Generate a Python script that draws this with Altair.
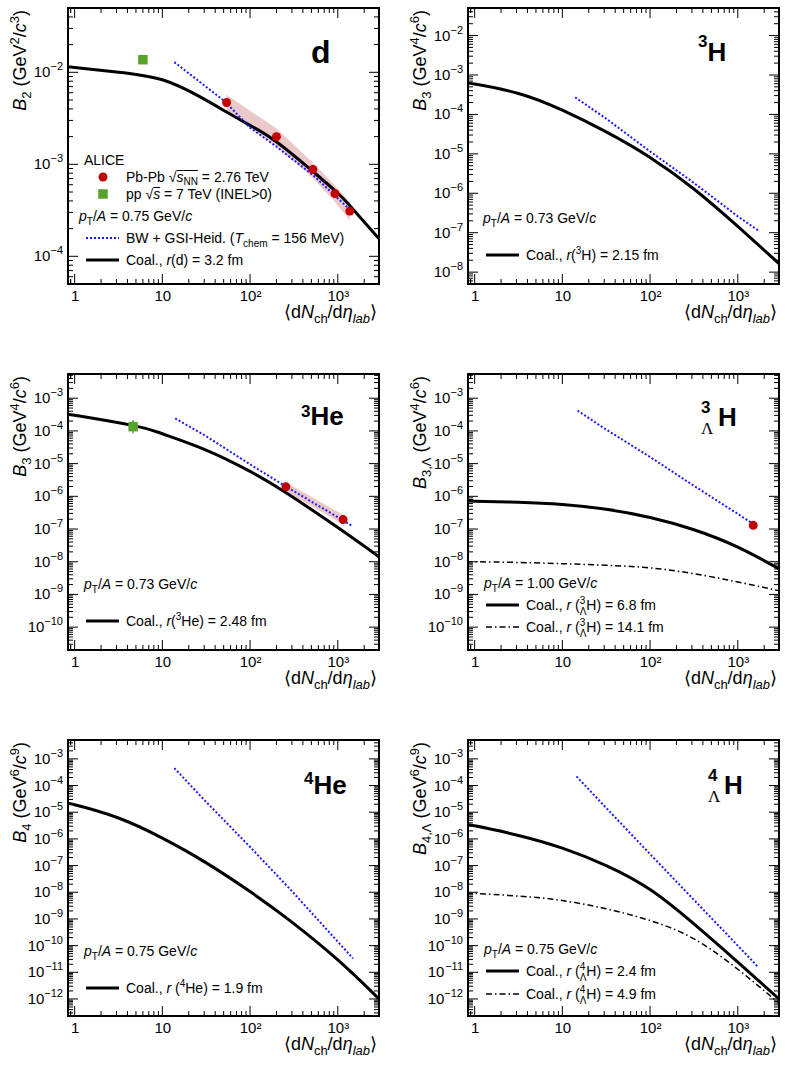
import math
import altair as alt
import pandas as pd

FONT = "Liberation Sans"
W, H = 311, 276
X_DOMAIN = [0.84, 2950]

# ---------------- data ----------------
# deuteron
d_coal_x = [0.84, 1, 3, 10, 27, 54, 100, 201, 525, 967, 1432, 2950]
d_coal_y = [1.15e-2, 1.13e-2, 1.01e-2, 8.3e-3, 5.4e-3, 3.7e-3, 2.65e-3, 1.75e-3, 8.3e-4, 5.0e-4, 3.4e-4, 1.55e-4]
d_gsi_x = [13.7, 27, 52, 100, 201, 525, 1250, 1400]
d_gsi_y = [1.29e-2, 7.8e-3, 4.8e-3, 2.5e-3, 1.55e-3, 7.6e-4, 3.5e-4, 3.2e-4]
d_pb_x = [54, 200, 520, 930, 1370]
d_pb_y = [4.7e-3, 2.0e-3, 8.8e-4, 4.8e-4, 3.1e-4]
d_pb_hi = [5.7e-3, 2.45e-3, 1.04e-3, 5.9e-4, 3.9e-4]
d_pb_lo = [3.75e-3, 1.55e-3, 7.1e-4, 3.9e-4, 2.45e-4]
d_pp_x = [6.0]
d_pp_y = [1.37e-2]

# triton
t_coal_x = [0.84, 1, 3.16, 10, 31.6, 100, 316, 1000, 2950]
t_coal_y = [6.2e-4, 5.9e-4, 3.4e-4, 1.28e-4, 3.6e-5, 8.1e-6, 1.28e-6, 1.44e-7, 1.65e-8]
t_gsi_x = [14, 30, 100, 300, 1000, 1700]
t_gsi_y = [2.7e-4, 8.5e-5, 1.15e-5, 2.0e-6, 2.6e-7, 1.15e-7]

# helium-3
he3_coal_x = [0.84, 1, 4.7, 10, 31, 100, 260, 1000, 2950]
he3_coal_y = [3.1e-4, 3.0e-4, 1.45e-4, 8.2e-5, 2.65e-5, 5.8e-6, 1.26e-6, 1.11e-7, 1.42e-8]
he3_gsi_x = [14, 30, 100, 256, 1000, 1490]
he3_gsi_y = [2.4e-4, 7.5e-5, 9.5e-6, 2.0e-6, 2.3e-7, 1.2e-7]
he3_pb_x = [256, 1150]
he3_pb_y = [1.95e-6, 1.95e-7]
he3_pb_hi = [2.7e-6, 2.7e-7]
he3_pb_lo = [1.4e-6, 1.4e-7]
he3_pp_x = [4.64]
he3_pp_y = [1.35e-4]
he3_pp_lo = [8.5e-5]
he3_pp_hi = [2.15e-4]

# hypertriton
h3l_coal_x = [0.84, 1, 3.16, 10, 31.6, 100, 316, 1000, 2950]
h3l_coal_a = [7.2e-7, 7.1e-7, 6.6e-7, 5.6e-7, 4.0e-7, 2.25e-7, 9.5e-8, 2.8e-8, 6.1e-9]
h3l_coal_b = [1.0e-8, 1.0e-8, 9.5e-9, 8.7e-9, 7.8e-9, 6.5e-9, 4.3e-9, 2.4e-9, 1.3e-9]
h3l_gsi_x = [14.9, 30, 100, 300, 1000, 1490]
h3l_gsi_y = [4.2e-4, 1.2e-4, 1.6e-5, 2.3e-6, 2.9e-7, 1.45e-7]
h3l_pb_x = [1500]
h3l_pb_y = [1.3e-7]
h3l_pb_lo = [1.1e-7]
h3l_pb_hi = [1.55e-7]

# helium-4
he4_coal_x = [0.84, 1, 3.1, 10, 31, 100, 285, 1000, 2950]
he4_coal_y = [2.05e-5, 1.9e-5, 6.2e-6, 1.07e-6, 1.32e-7, 1.06e-8, 8.6e-10, 2.9e-11, 1.0e-12]
he4_gsi_x = [13.7, 30, 100, 300, 1000, 1490]
he4_gsi_y = [4.5e-4, 2.9e-5, 5.0e-7, 1.1e-8, 1.4e-10, 3.3e-11]

# hyper-hydrogen-4
h4l_coal_x = [0.84, 1, 3.16, 10, 31.6, 100, 316, 1000, 2950]
h4l_coal_a = [3.2e-6, 3.1e-6, 1.35e-6, 4.5e-7, 1.0e-7, 1.26e-8, 6.5e-10, 2.4e-11, 1.0e-12]
h4l_coal_b = [9.2e-9, 9.0e-9, 7.2e-9, 4.9e-9, 2.4e-9, 8.7e-10, 1.8e-10, 1.3e-11, 7e-13]
h4l_gsi_x = [14.5, 31.6, 100, 316, 1000, 1700]
h4l_gsi_y = [2.2e-4, 1.45e-5, 2.7e-7, 5.2e-9, 1.0e-10, 1.6e-11]

X_LABEL_VALUES = [1, 10, 100, 1000]

# ---------------- styling helpers ----------------
RED = "#c00000"
GREEN = "#58a12b"
BLUE = "#1a1aff"
BAND = "#c86464"

ONE = alt.Data(values=[{"a": 1}])

XAXIS = alt.Axis(
    values=X_LABEL_VALUES,
    labelExpr="datum.value == 1 ? '1' : datum.value == 10 ? '10' : datum.value == 100 ? '10²' : '10³'",
    ticks=False, domain=False, grid=False, title=None,
    labelFont=FONT, labelFontSize=15, labelColor="black", labelPadding=4,
    labelFlush=False, labelOverlap=False,
)

CHAR_W = {
    " ": 278, "(": 333, ")": 333, "+": 584, ",": 278, "-": 333, ".": 278, "/": 278,
    "<": 584, "=": 584, ">": 584, "√": 549, "⟨": 390, "⟩": 390, "η": 556, "Λ": 667, "−": 584,
    "A": 667, "B": 667, "C": 722, "D": 722, "E": 667, "F": 611, "G": 778, "H": 722,
    "I": 278, "L": 556, "M": 833, "N": 722, "P": 667, "S": 667, "T": 611, "V": 667, "W": 944,
    "a": 556, "b": 556, "c": 500, "d": 556, "e": 556, "f": 278, "h": 556, "i": 222,
    "l": 222, "m": 833, "n": 556, "o": 556, "p": 556, "r": 333, "s": 500, "t": 278,
}


def textw(t, size):
    return sum(CHAR_W.get(ch, 556) for ch in t) * size / 1000.0


def xenc(field):
    return alt.X(field, type="quantitative",
                 scale=alt.Scale(type="log", domain=X_DOMAIN, nice=False), axis=XAXIS)


class Panel:
    def __init__(self, ydom):
        self.ydom = ydom
        lo = math.floor(math.log10(ydom[0]))
        hi = math.ceil(math.log10(ydom[1]))
        self.ymajor = [10.0 ** e for e in range(lo, hi + 1) if ydom[0] <= 10.0 ** e <= ydom[1]]
        self.yminor = [k * 10.0 ** e for e in range(lo, hi + 1) for k in range(2, 10)
                       if ydom[0] <= k * 10.0 ** e <= ydom[1]]
        self.layers = []

    def yenc(self, field):
        return alt.Y(field, type="quantitative",
                     scale=alt.Scale(type="log", domain=self.ydom, nice=False), axis=None)

    # data marks
    def band(self, xs, lo, hi):
        df = pd.DataFrame({"x": xs, "lo": lo, "hi": hi})
        self.layers.append(alt.Chart(df).mark_area(color=BAND, opacity=0.35, clip=True).encode(
            x=xenc("x"), y=self.yenc("lo"), y2=alt.Y2("hi")))

    def line(self, xs, ys, color="black", width=3.0, dash=None, interp="natural"):
        df = pd.DataFrame({"x": xs, "y": ys})
        kw = dict(color=color, strokeWidth=width, interpolate=interp, clip=True)
        if dash:
            kw["strokeDash"] = dash
        self.layers.append(alt.Chart(df).mark_line(**kw).encode(x=xenc("x"), y=self.yenc("y")))

    def gsi(self, xs, ys):
        self.line(xs, ys, color=BLUE, width=2, dash=[2, 2], interp="linear")

    def errbar(self, xs, lo, hi, color):
        df = pd.DataFrame({"x": xs, "lo": lo, "hi": hi})
        self.layers.append(alt.Chart(df).mark_rule(color=color, strokeWidth=1.5).encode(
            x=xenc("x"), y=self.yenc("lo"), y2=alt.Y2("hi")))

    def points(self, xs, ys, shape, color):
        df = pd.DataFrame({"x": xs, "y": ys})
        if shape == "circle":
            mk = alt.Chart(df).mark_circle(size=80, color=color, opacity=1)
        else:
            mk = alt.Chart(df).mark_square(size=90, color=color, opacity=1)
        self.layers.append(mk.encode(x=xenc("x"), y=self.yenc("y")))

    # frame ticks on all four sides, and the power-of-ten labels on the left
    def ticks(self):
        xmaj = pd.DataFrame({"v": X_LABEL_VALUES})
        xmin = pd.DataFrame({"v": [k * 10.0 ** e for e in range(-1, 4) for k in range(2, 10)
                                   if X_DOMAIN[0] <= k * 10.0 ** e <= X_DOMAIN[1]] + [0.9]})
        ymaj = pd.DataFrame({"v": self.ymajor})
        ymin = pd.DataFrame({"v": self.yminor})
        for df, ln in ((xmaj, 10), (xmin, 5)):
            base = alt.Chart(df).mark_rule(color="black", strokeWidth=1)
            self.layers.append(base.encode(x=xenc("v"), y=alt.value(H), y2=alt.value(H - ln)))
            self.layers.append(base.encode(x=xenc("v"), y=alt.value(0), y2=alt.value(ln)))
        for df, ln in ((ymaj, 10), (ymin, 5)):
            base = alt.Chart(df).mark_rule(color="black", strokeWidth=1)
            self.layers.append(base.encode(y=self.yenc("v"), x=alt.value(0), x2=alt.value(ln)))
            self.layers.append(base.encode(y=self.yenc("v"), x=alt.value(W), x2=alt.value(W - ln)))

        exps = ["−" + str(-int(round(math.log10(v)))) for v in self.ymajor]
        lab = pd.DataFrame({"v": self.ymajor, "e": exps})
        self.layers.append(alt.Chart(lab).mark_text(
            font=FONT, fontSize=11, align="right", baseline="alphabetic", dy=-2, color="black"
        ).encode(y=self.yenc("v"), x=alt.value(-5), text="e:N"))
        for ndig in (1, 2):
            sub = lab[lab["e"].str.len() == ndig + 1]
            if len(sub) == 0:
                continue
            ew = textw(sub["e"].iloc[0], 11)
            self.layers.append(alt.Chart(sub).mark_text(
                font=FONT, fontSize=15, align="right", baseline="alphabetic", dy=5, dx=-ew,
                text="10", color="black"
            ).encode(y=self.yenc("v"), x=alt.value(-5)))

    # annotation helpers
    def text(self, s, x, y, size=14, it=False, bold=False, angle=0, font=FONT):
        kw = dict(text=s, font=font, fontSize=size, align="left",
                  baseline="alphabetic", color="black")
        if it:
            kw["fontStyle"] = "italic"
        if bold:
            kw["fontWeight"] = "bold"
        if angle:
            kw["angle"] = angle
        self.layers.append(alt.Chart(ONE).mark_text(**kw).encode(x=alt.value(x), y=alt.value(y)))

    def hline(self, x0, x1, y, color="black", width=1.0, dash=None):
        kw = dict(color=color, strokeWidth=width)
        if dash:
            kw["strokeDash"] = dash
        self.layers.append(alt.Chart(ONE).mark_rule(**kw).encode(
            x=alt.value(x0), x2=alt.value(x1), y=alt.value(y)))

    def marker(self, x, y, shape, color):
        if shape == "circle":
            mk = alt.Chart(ONE).mark_circle(size=80, color=color, opacity=1)
        else:
            mk = alt.Chart(ONE).mark_square(size=90, color=color, opacity=1)
        self.layers.append(mk.encode(x=alt.value(x), y=alt.value(y)))

    def rich(self, segs, x, y, angle=0, anchor="start"):
        widths = [s["adv"] if s["adv"] is not None else textw(s["t"], s["size"]) for s in segs]
        cur = 0.0 if anchor == "start" else -sum(widths)
        for s, w in zip(segs, widths):
            t = s["t"]
            lead = textw(" " * (len(t) - len(t.lstrip(" "))), s["size"])
            pos = cur + lead
            if angle == 0:
                px, py = x + pos, y + s["shift"]
            else:
                px, py = x + s["shift"], y - pos
            self.text(t.strip(" "), px, py, s["size"], s["it"], s["bold"], angle, s["font"])
            if s["over"]:
                self.hline(x + cur, x + cur + w, y - 11.5)
            cur += w

    def chart(self):
        return alt.layer(*self.layers).properties(width=W, height=H)


def S(t, size=14, shift=0, it=False, bold=False, adv=None, over=False, font=FONT):
    return dict(t=t, size=size, shift=shift, it=it, bold=bold, adv=adv, over=over, font=font)


X_TITLE = [S("⟨", 18), S("d", 18), S("N", 18, it=True), S("ch", 13, shift=5), S("/d", 18),
           S("η", 18, it=True), S("lab", 13, shift=5, it=True), S("⟩", 18)]


def y_title(sub, e1, e2):
    return [S("B", 18, it=True), S(sub, 13, shift=5), S(" (GeV", 18), S(e1, 13, shift=-7),
            S("/", 18), S("c", 18, it=True), S(e2, 13, shift=-7), S(")", 18)]


def pt_label(val):
    return [S("p", it=True), S("T", 10, shift=4), S("/"), S("A", it=True),
            S(" = " + val + " GeV/"), S("c", it=True)]


def axes_titles(p, ytitle):
    p.rich(X_TITLE, W - 2, H + 34, anchor="end")
    p.rich(ytitle, -42, 2, angle=270, anchor="end")


# ---------------- panel: d ----------------
p1 = Panel([5e-5, 0.05])
p1.band(d_pb_x, d_pb_lo, d_pb_hi)
p1.line(d_coal_x, d_coal_y)
p1.gsi(d_gsi_x, d_gsi_y)
p1.points(d_pb_x, d_pb_y, "circle", RED)
p1.points(d_pp_x, d_pp_y, "square", GREEN)
p1.ticks()
axes_titles(p1, y_title("2", "2", "3"))
p1.text("d", 243, 55, 32, bold=True)
p1.text("ALICE", 16, 157)
p1.marker(35, 169, "circle", RED)
p1.rich([S("Pb-Pb "), S("√"), S("s", it=True, over=True), S("NN", 10, shift=3, over=True),
         S(" = 2.76 TeV")], 58, 174)
p1.marker(35, 186, "square", GREEN)
p1.rich([S("pp "), S("√"), S("s", it=True, over=True), S(" = 7 TeV (INEL>0)")], 58, 191)
p1.rich(pt_label("0.75"), 11, 213)
p1.hline(18, 51, 230, BLUE, 2, [2, 2])
p1.rich([S("BW + GSI-Heid. ("), S("T", it=True), S("chem", 10, shift=4), S(" = 156 MeV)")], 58, 235)
p1.hline(18, 51, 252, "black", 3)
p1.rich([S("Coal., "), S("r", it=True), S("(d) = 3.2 fm")], 58, 257)

# ---------------- panel: triton ----------------
p2 = Panel([5e-9, 0.05])
p2.line(t_coal_x, t_coal_y)
p2.gsi(t_gsi_x, t_gsi_y)
p2.ticks()
axes_titles(p2, y_title("3", "4", "6"))
p2.rich([S("3", 17, shift=-14, bold=True), S("H", 26, bold=True)], 230, 53)
p2.rich(pt_label("0.73"), 15, 215)
p2.hline(18, 51, 247, "black", 3)
p2.rich([S("Coal., "), S("r", it=True), S("("), S("3", 10, shift=-6), S("H) = 2.15 fm")], 58, 252)

# ---------------- panel: helium-3 ----------------
p3 = Panel([2e-11, 5.5e-3])
p3.band(he3_pb_x, he3_pb_lo, he3_pb_hi)
p3.line(he3_coal_x, he3_coal_y)
p3.gsi(he3_gsi_x, he3_gsi_y)
p3.errbar(he3_pp_x, he3_pp_lo, he3_pp_hi, GREEN)
p3.points(he3_pb_x, he3_pb_y, "circle", RED)
p3.points(he3_pp_x, he3_pp_y, "square", GREEN)
p3.ticks()
axes_titles(p3, y_title("3", "4", "6"))
p3.rich([S("3", 17, shift=-8, bold=True), S("He", 26, bold=True)], 233, 51)
p3.rich(pt_label("0.73"), 16, 215)
p3.hline(18, 51, 247, "black", 3)
p3.rich([S("Coal., "), S("r", it=True), S("("), S("3", 10, shift=-6), S("He) = 2.48 fm")], 58, 252)

# ---------------- panel: hypertriton ----------------
p4 = Panel([2e-11, 5.5e-3])
p4.line(h3l_coal_x, h3l_coal_a)
p4.line(h3l_coal_x, h3l_coal_b, width=1.5, dash=[6, 3, 1.5, 3])
p4.gsi(h3l_gsi_x, h3l_gsi_y)
p4.errbar(h3l_pb_x, h3l_pb_lo, h3l_pb_hi, RED)
p4.points(h3l_pb_x, h3l_pb_y, "circle", RED)
p4.ticks()
axes_titles(p4, y_title("3,Λ", "4", "6"))
p4.rich([S("3", 17, shift=-13, bold=True, adv=0), S("Λ", 17, shift=8, adv=17, font="Liberation Serif"),
         S("H", 26, bold=True)], 233, 52)
p4.rich(pt_label("1.00"), 16, 214)
hyp_sym = [S(" ("), S("3", 10, shift=-6, adv=0), S("Λ", 10, shift=5)]
p4.hline(18, 51, 231, "black", 3)
p4.rich([S("Coal., "), S("r", it=True)] + hyp_sym + [S("H) = 6.8 fm")], 58, 236)
p4.hline(18, 51, 253, "black", 1.5, [6, 3, 1.5, 3])
p4.rich([S("Coal., "), S("r", it=True)] + hyp_sym + [S("H) = 14.1 fm")], 58, 258)

# ---------------- panel: helium-4 ----------------
p5 = Panel([2.3e-13, 5.1e-3])
p5.line(he4_coal_x, he4_coal_y)
p5.gsi(he4_gsi_x, he4_gsi_y)
p5.ticks()
axes_titles(p5, y_title("4", "6", "9"))
p5.rich([S("4", 17, shift=-10, bold=True), S("He", 26, bold=True)], 236, 54)
p5.rich(pt_label("0.75"), 16, 216)
p5.hline(18, 51, 248, "black", 3)
p5.rich([S("Coal., "), S("r", it=True), S(" ("), S("4", 10, shift=-6), S("He) = 1.9 fm")], 58, 253)

# ---------------- panel: hyper-hydrogen-4 ----------------
p6 = Panel([2.3e-13, 5.1e-3])
p6.line(h4l_coal_x, h4l_coal_a)
p6.line(h4l_coal_x, h4l_coal_b, width=1.5, dash=[6, 3, 1.5, 3])
p6.gsi(h4l_gsi_x, h4l_gsi_y)
p6.ticks()
axes_titles(p6, y_title("4,Λ", "6", "9"))
p6.rich([S("4", 17, shift=-13, bold=True, adv=0), S("Λ", 17, shift=8, adv=16, font="Liberation Serif"),
         S("H", 26, bold=True)], 240, 54)
p6.rich(pt_label("0.75"), 16, 214)
h4_sym = [S(" ("), S("4", 10, shift=-6, adv=0), S("Λ", 10, shift=5)]
p6.hline(18, 51, 231, "black", 3)
p6.rich([S("Coal., "), S("r", it=True)] + h4_sym + [S("H) = 2.4 fm")], 58, 236)
p6.hline(18, 51, 254, "black", 1.5, [6, 3, 1.5, 3])
p6.rich([S("Coal., "), S("r", it=True)] + h4_sym + [S("H) = 4.9 fm")], 58, 259)

chart = alt.concat(
    p1.chart(), p2.chart(), p3.chart(), p4.chart(), p5.chart(), p6.chart(),
    columns=2, spacing={"row": 90, "column": 89}, bounds="flush",
).configure_view(stroke="black", strokeWidth=2).properties(
    padding={"left": 8, "top": 6, "right": 3, "bottom": 5}
)

chart.save("out.html", embed_options={"renderer": "svg", "actions": False})
